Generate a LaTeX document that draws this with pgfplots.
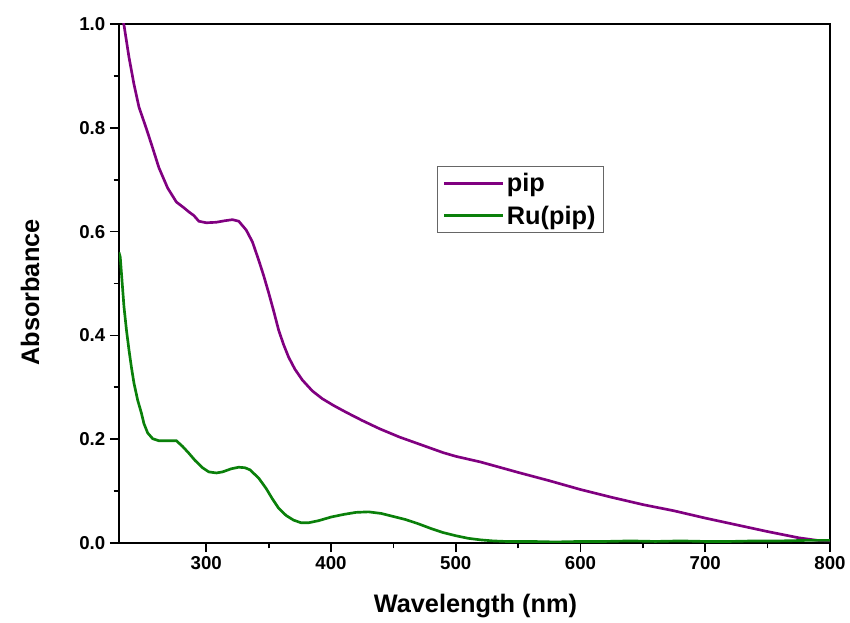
\documentclass[border=0pt]{standalone}
\usepackage{fontspec}
\setmainfont{Liberation Sans}
\usepackage{pgfplots}
\pgfplotsset{compat=1.18}
\definecolor{pipc}{RGB}{128,0,128}
\definecolor{ruc}{RGB}{10,128,10}
\begin{document}
\begin{tikzpicture}
\begin{axis}[
  scale only axis,
  width=533.25pt, height=389.25pt,
  xmin=230, xmax=800, ymin=0, ymax=1.0,
  axis line style={line width=1.5pt},
  xtick={300,400,500,600,700,800},
  ytick={0,0.2,0.4,0.6,0.8,1.0},
  minor x tick num=1, minor y tick num=1,
  tick align=outside, tick pos=left,
  major tick length=6.75pt, minor tick length=4pt,
  every tick/.style={line width=1.3pt, black},
  /pgf/number format/assume math mode=true,
  yticklabel style={/pgf/number format/fixed, /pgf/number format/fixed zerofill, /pgf/number format/precision=1},
  xticklabel style={/pgf/number format/set thousands separator={}},
  tick label style={font=\fontsize{14}{16}\selectfont\bfseries},
  label style={font=\fontsize{19}{22}\selectfont\bfseries},
  xlabel={Wavelength (nm)}, ylabel={Absorbance},
  xlabel style={at={(axis description cs:0.5013,-0.1214)}, anchor=center},
  ylabel style={at={(axis description cs:-0.1252,0.4827)}, anchor=center},
  legend style={at={(axis description cs:0.447,0.726)}, anchor=north west,
    draw=black!60, line width=0.8pt, font=\fontsize{19}{21}\selectfont\bfseries,
    inner xsep=4pt, inner ysep=3pt, row sep=5pt},
  legend cell align=left,
  legend image code/.code={\draw[#1, line width=2.2pt] (4pt,0pt) -- (48pt,0pt);},
]
\addplot[pipc, line width=2pt] coordinates {
(230,1.04) (234,0.998) (238,0.936) (242,0.884) (246,0.840) (252,0.798) (257,0.761)
(262,0.723) (269,0.684) (276,0.657) (282,0.646) (286,0.638) (290,0.631) (294,0.620)
(300,0.617) (308,0.618) (315,0.621) (321,0.623) (326,0.620) (332,0.603) (337,0.58)
(342,0.545) (346,0.515) (350,0.482) (354,0.447) (358,0.410) (362,0.382) (366,0.358)
(371,0.335) (377,0.314) (385,0.293) (393,0.278) (402,0.265) (412,0.252) (425,0.236)
(439,0.220) (455,0.204) (476,0.186) (490,0.174) (500,0.167) (520,0.156) (550,0.136)
(575,0.120) (600,0.103) (625,0.088) (650,0.074) (675,0.062) (700,0.048) (725,0.035)
(750,0.022) (775,0.010) (790,0.005) (800,0.004)
};
\addlegendentry{pip}
\addplot[ruc, line width=2pt] coordinates {
(230,0.56) (231,0.551) (234,0.455) (236,0.41) (238,0.372) (240,0.338) (242,0.308)
(245,0.275) (248,0.250) (250,0.230) (253,0.212) (257,0.201) (262,0.197) (268,0.197)
(276,0.197) (281,0.186) (286,0.173) (291,0.159) (297,0.145) (302,0.137) (308,0.135)
(313,0.137) (320,0.143) (326,0.146) (331,0.145) (335,0.141) (342,0.125) (348,0.105)
(353,0.085) (358,0.067) (364,0.053) (370,0.044) (376,0.039) (382,0.039) (390,0.043)
(400,0.050) (410,0.055) (420,0.059) (430,0.060) (440,0.057) (450,0.051) (460,0.045)
(470,0.037) (480,0.028) (490,0.020) (500,0.014) (510,0.009) (520,0.006) (530,0.004)
(540,0.003) (560,0.003) (580,0.002) (600,0.003) (620,0.003) (640,0.004) (660,0.003)
(680,0.004) (700,0.003) (720,0.003) (740,0.004) (760,0.004) (780,0.005) (800,0.005)
};
\addlegendentry{Ru(pip)}
\end{axis}
\path ([xshift=-89.25pt, yshift=-58.5pt]current axis.south west) rectangle ([xshift=15pt, yshift=18pt]current axis.north east);
\end{tikzpicture}
\end{document}
